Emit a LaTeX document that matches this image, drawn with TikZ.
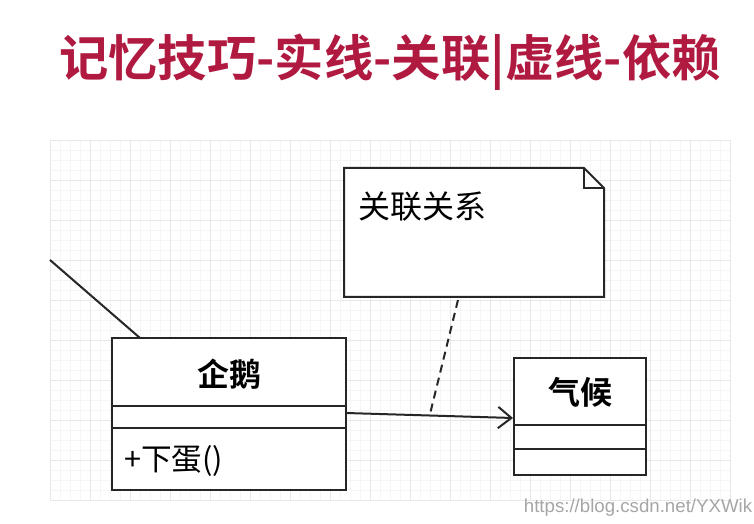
\documentclass[tikz,border=0pt]{standalone}
\usepackage{fontspec}
\setmainfont{Noto Sans CJK SC}
\newfontfamily\cjkb{Noto Sans CJK SC Bold}
\usetikzlibrary{arrows.meta}
\definecolor{titlered}{HTML}{B01A40}
\begin{document}
\begin{tikzpicture}[x=0.75pt,y=-0.75pt,
  box/.style={draw=black!85,line width=1.5pt,fill=white},
  lbl/.style={inner sep=0pt}]
\useasboundingbox (0,0) rectangle (754,524);
\fill[white] (0,0) rectangle (754,524);
% grid
\foreach \x in {50,60,...,730} \draw[black!4,line width=0.4pt] (\x,140) -- (\x,500);
\foreach \y in {140,150,...,500} \draw[black!4,line width=0.4pt] (50,\y) -- (730,\y);
\foreach \x in {50,90,...,730} \draw[black!9,line width=0.5pt] (\x,140) -- (\x,500);
\foreach \y in {140,180,...,500} \draw[black!9,line width=0.5pt] (50,\y) -- (730,\y);
% title
\node[lbl,text=titlered,font=\cjkb\fontsize{37}{42}\selectfont] (title) at (390,62) {记忆技巧-实线-关联|虚线-依赖};
% note
\draw[box] (344,168) -- (584,168) -- (604,188) -- (604,297) -- (344,297) -- cycle;
\draw[black!85,line width=1.3pt] (584,168) -- (584,188) -- (604,188);
\coordinate (noteb) at (458,300);
\node[lbl,anchor=west,font=\fontsize{24}{28}\selectfont] (notet) at (358,207) {关联关系};
% penguin
\draw[box] (112,338) rectangle (346,490);
\draw[black!85,line width=1.5pt] (112,406) -- (346,406) (112,428) -- (346,428);
\node[lbl,font=\cjkb\fontsize{24}{28}\selectfont] (peng) at (229,374) {企鹅};
\node[lbl,anchor=west,font=\fontsize{23}{27}\selectfont] (egg) at (124,461) {+下蛋()};
\coordinate (pengr) at (346,413);
\coordinate (pengt) at (140,338);
\coordinate (lfree) at (50,260);
% climate
\draw[box] (514,358) rectangle (646,475);
\draw[black!85,line width=1.5pt] (514,425) -- (646,425) (514,449) -- (646,449);
\node[lbl,font=\cjkb\fontsize{24}{28}\selectfont] (clim) at (580,392) {气候};
\coordinate (climl) at (513,418);
% connectors
\draw[black!85,line width=1.5pt] (lfree) -- (pengt);
\draw[black!85,line width=1.5pt,-{Straight Barb[length=10pt,width=16pt,line width=1.5pt]}] (pengr) -- (climl);
\coordinate (dashend) at (430,414);
\draw[black!85,line width=1.5pt,dashed,dash pattern=on 6pt off 4pt] (noteb) -- (dashend);
% watermark
\node[lbl,text=black!35,font=\fontspec{Liberation Sans}\fontsize{14}{16}\selectfont] (wm) at (638,508) {https://blog.csdn.net/YXWik};
\end{tikzpicture}
\end{document}
